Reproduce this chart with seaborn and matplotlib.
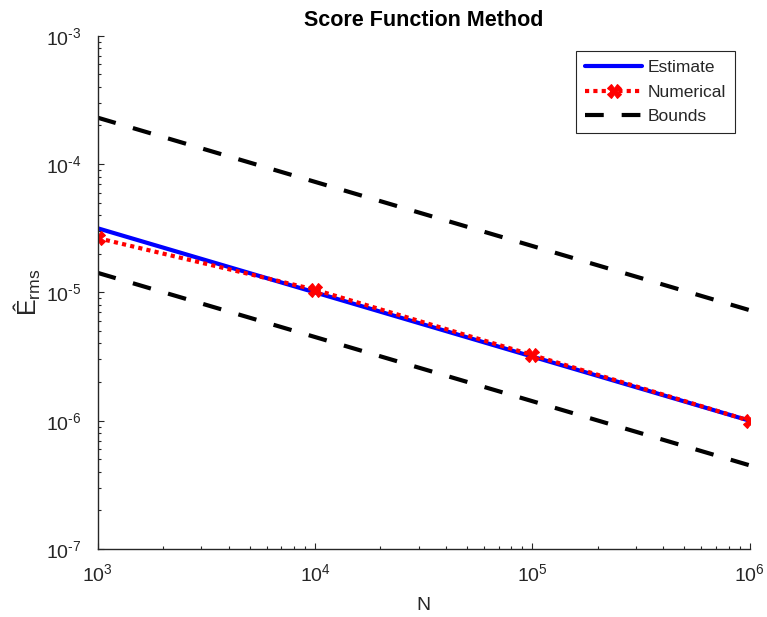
import matplotlib
matplotlib.use("Agg")
import matplotlib.pyplot as plt
import matplotlib.ticker as mticker
import seaborn as sns
import pandas as pd
import numpy as np

# Data
N = [1e3, 1e4, 1e5, 1e6]
estimate = [3.16e-5, 1.0e-5, 3.16e-6, 1.0e-6]
numerical = [2.65e-5, 1.05e-5, 3.25e-6, 1.0e-6]
upper_bound = [2.3e-4, 7.27e-5, 2.3e-5, 7.27e-6]
lower_bound = [1.42e-5, 4.49e-6, 1.42e-6, 4.49e-7]

df = pd.DataFrame({
    'N': N,
    'Estimate': estimate,
    'Numerical': numerical,
    'Upper': upper_bound,
    'Lower': lower_bound,
})

sns.set_theme(style="white")
plt.rcParams['font.family'] = ['Liberation Sans', 'DejaVu Sans']
plt.rcParams['mathtext.fontset'] = 'custom'
plt.rcParams['mathtext.rm'] = 'Liberation Sans'
plt.rcParams['mathtext.it'] = 'Liberation Sans:italic'

fig = plt.figure(figsize=(7.67, 6.17), dpi=100)
ax = fig.add_axes([0.1274, 0.1102, 0.8499, 0.8318])

sns.lineplot(data=df, x='N', y='Estimate', ax=ax, color='blue', linewidth=3,
             label='Estimate')
sns.lineplot(data=df, x='N', y='Numerical', ax=ax, color='red', linewidth=3,
             linestyle=(0, (1, 1)), marker='X', markersize=10,
             markeredgecolor='red', markerfacecolor='red', label='Numerical')
sns.lineplot(data=df, x='N', y='Upper', ax=ax, color='black', linewidth=3,
             linestyle=(0, (4.5, 4.3)), label='Bounds')
sns.lineplot(data=df, x='N', y='Lower', ax=ax, color='black', linewidth=3,
             linestyle=(0, (4.5, 4.3)), label='_nolegend_')

ax.set_xscale('log')
ax.set_yscale('log')
ax.set_xlim(1e3, 1e6)
ax.set_ylim(1e-7, 1e-3)


def pow_label(v, p):
    e = int(round(np.log10(v)))
    if e < 0:
        return r'$\mathregular{10^{\text{-}%d}}$' % (-e)
    return r'$\mathregular{10^{%d}}$' % e


ax.xaxis.set_major_locator(mticker.LogLocator(base=10, numticks=10))
ax.yaxis.set_major_locator(mticker.LogLocator(base=10, numticks=10))
ax.xaxis.set_minor_locator(mticker.LogLocator(base=10, subs=np.arange(2, 10), numticks=20))
ax.yaxis.set_minor_locator(mticker.LogLocator(base=10, subs=np.arange(2, 10), numticks=20))
ax.xaxis.set_major_formatter(mticker.FuncFormatter(pow_label))
ax.yaxis.set_major_formatter(mticker.FuncFormatter(pow_label))
ax.xaxis.set_minor_formatter(mticker.NullFormatter())
ax.yaxis.set_minor_formatter(mticker.NullFormatter())

sns.despine(ax=ax)
for side in ['left', 'bottom']:
    ax.spines[side].set_color('#262626')
    ax.spines[side].set_linewidth(1.0)

ax.tick_params(which='both', direction='in', colors='#262626', labelsize=14)
ax.tick_params(which='major', length=4.5, width=0.8)
ax.tick_params(which='minor', length=2.5, width=0.8)
ax.tick_params(axis='y', which='major', pad=12)
ax.tick_params(axis='x', which='major', pad=10.5)
ax.tick_params(axis='both', which='both', bottom=True, left=True)

ax.set_xlabel('N', fontsize=14, color='#262626', labelpad=8)
ax.set_ylabel(r'Ê$_{\mathregular{rms}}$', fontsize=18, color='#262626', labelpad=2)
ax.set_title('Score Function Method', fontsize=15.5, fontweight='bold', pad=7,
             color='black')

leg = ax.legend(loc='upper right', bbox_to_anchor=(0.977, 0.97), fontsize=12.5,
                frameon=True, fancybox=False, framealpha=1, borderpad=0.5,
                handlelength=3.3, handletextpad=0.3, labelspacing=0.55,
                borderaxespad=0)
leg.get_frame().set_edgecolor('#262626')
leg.get_frame().set_linewidth(0.8)

fig.savefig('out.png', dpi=100)
